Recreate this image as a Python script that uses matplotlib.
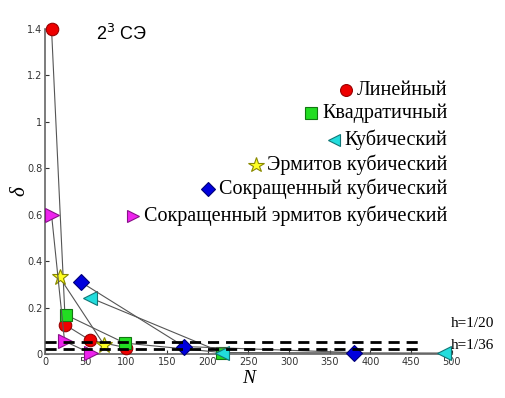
import matplotlib
matplotlib.use("Agg")
import matplotlib.pyplot as plt

# Данные (N, delta) для каждого типа элементов
n_lin = [8, 25, 55, 100]
d_lin = [1.40, 0.125, 0.06, 0.027]

n_quad = [26, 98, 218]
d_quad = [0.168, 0.047, 0.006]

n_cub = [55, 218, 490]
d_cub = [0.243, 0.006, 0.004]

n_herm = [18, 73]
d_herm = [0.33, 0.037]

n_red = [44, 171, 380]
d_red = [0.31, 0.032, 0.006]

n_redherm = [8, 24, 56]
d_redherm = [0.60, 0.055, 0.003]

h_levels = [0.050, 0.022]
h_labels = ["h=1/20", "h=1/36"]
h_xmax = 460

names = ["Линейный", "Квадратичный", "Кубический", "Эрмитов кубический",
         "Сокращенный кубический", "Сокращенный эрмитов кубический"]

series = [
    (n_lin, d_lin, "o", "#ee0000", "#990000", 9),
    (n_quad, d_quad, "s", "#22dd22", "#117711", 8.5),
    (n_cub, d_cub, "<", "#22dddd", "#117777", 9.5),
    (n_herm, d_herm, "*", "#ffff22", "#888800", 12),
    (n_red, d_red, "D", "#0000dd", "#000077", 8),
    (n_redherm, d_redherm, ">", "#ee22ee", "#881188", 9.5),
]

fig = plt.figure(figsize=(5.06, 3.98), dpi=100)
ax = fig.add_axes([0.089, 0.1106, 0.804, 0.8164])

for xs, ys, m, fc, ec, ms in series:
    ax.plot(xs, ys, color="#555555", lw=0.8, marker=m, markersize=ms,
            markerfacecolor=fc, markeredgecolor=ec, markeredgewidth=0.8,
            clip_on=False, zorder=3)

for lvl, lab in zip(h_levels, h_labels):
    ax.plot([0, h_xmax], [lvl, lvl], color="black", lw=2, ls=(0, (4, 2.5)),
            zorder=4)

ax.text(0.998, 0.130, h_labels[0], transform=ax.get_yaxis_transform(),
        fontsize=11, family="Liberation Serif", ha="left", va="center")
ax.text(0.998, 0.036, h_labels[1], transform=ax.get_yaxis_transform(),
        fontsize=11, family="Liberation Serif", ha="left", va="center")

ax.set_xlim(0, 500)
ax.set_ylim(0, 1.4)
ax.set_xticks(range(0, 501, 50))
ax.set_yticks([0, 0.2, 0.4, 0.6, 0.8, 1, 1.2, 1.4])
ax.set_yticklabels(["0", "0.2", "0.4", "0.6", "0.8", "1", "1.2", "1.4"])
ax.tick_params(direction="in", length=3, labelsize=7, colors="#333333",
               pad=2)
for s in ["top", "right"]:
    ax.spines[s].set_visible(False)
for s in ["left", "bottom"]:
    ax.spines[s].set_color("#666666")
    ax.spines[s].set_linewidth(1.2)

ax.set_xlabel("N", fontsize=14, family="Liberation Serif", style="italic",
              labelpad=2)
ax.set_ylabel("δ", fontsize=15, family="Liberation Serif", style="italic",
              labelpad=-2)

ax.text(0.126, 0.985, "2$^3$ СЭ", transform=ax.transAxes, fontsize=13,
        family="Liberation Sans", ha="left", va="center")

# Подписи-легенда с маркерами слева от текста
legend_y = [0.812, 0.742, 0.658, 0.582, 0.508, 0.425]
fig.canvas.draw()
renderer = fig.canvas.get_renderer()
for (xs, ys, m, fc, ec, ms), name, ly in zip(series, names, legend_y):
    t = ax.text(0.99, ly, name, transform=ax.transAxes, fontsize=14.5,
                family="Liberation Serif", ha="right", va="center")
    bb = t.get_window_extent(renderer=renderer)
    xm = (bb.x0 - 11) / fig.bbox.width
    ym = (bb.y0 + bb.y1) / 2 / fig.bbox.height
    fig.lines.append(plt.Line2D([xm], [ym], transform=fig.transFigure,
                                marker=m, markersize=ms * 0.95, ls="none",
                                markerfacecolor=fc, markeredgecolor=ec,
                                markeredgewidth=0.8))

fig.savefig("out.png", dpi=100)
